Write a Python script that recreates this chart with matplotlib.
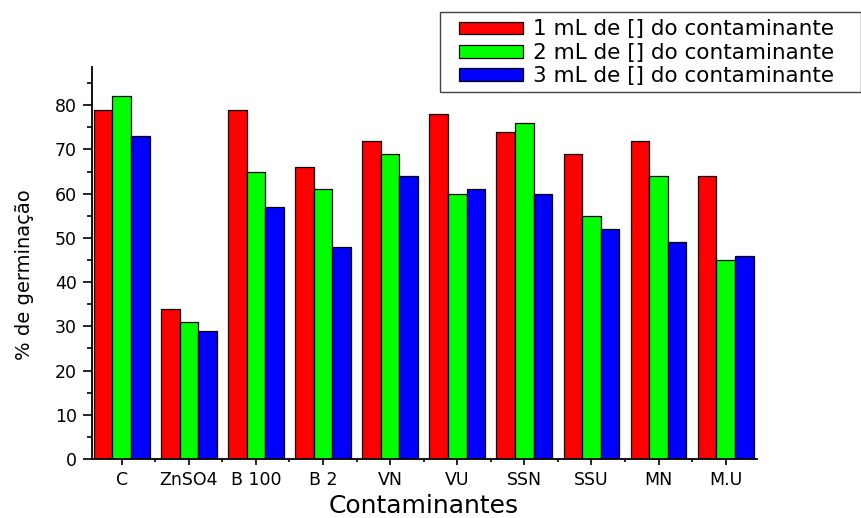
import numpy as np
import matplotlib
matplotlib.use("Agg")
import matplotlib.pyplot as plt
from matplotlib.patches import Rectangle
from matplotlib.ticker import MultipleLocator

categories = ["C", "ZnSO4", "B 100", "B 2", "VN", "VU", "SSN", "SSU", "MN", "M.U"]
serie_1ml = [79, 34, 79, 66, 72, 78, 74, 69, 72, 64]
serie_2ml = [82, 31, 65, 61, 69, 60, 76, 55, 64, 45]
serie_3ml = [73, 29, 57, 48, 64, 61, 60, 52, 49, 46]
labels = ["1 mL de [] do contaminante",
          "2 mL de [] do contaminante",
          "3 mL de [] do contaminante"]
colors = ["#ff0000", "#00ff00", "#0000ff"]

plt.rcParams['font.family'] = ['DejaVu Sans']


def main():
    fig = plt.figure(figsize=(8.62, 5.18), dpi=100)
    ax = fig.add_axes([91.7 / 862, 1 - 459 / 518, 665 / 862, 392.3 / 518])

    x = np.arange(len(categories))
    w = 0.277
    handles = []
    for i, (vals, c) in enumerate(zip([serie_1ml, serie_2ml, serie_3ml], colors)):
        b = ax.bar(x + (i - 1) * w, vals, width=w, color=c,
                   edgecolor='black', linewidth=0.9, label=labels[i])
        handles.append(b)

    ax.set_xlim(-0.447, 9.462)
    ax.set_ylim(0, 88.7)

    for s in ['top', 'right']:
        ax.spines[s].set_visible(False)
    for s in ['left', 'bottom']:
        ax.spines[s].set_linewidth(1.3)

    ax.set_xticks(x)
    ax.set_xticklabels(categories)
    ax.set_xticks(x[:-1] + 0.5, minor=True)
    ax.yaxis.set_major_locator(MultipleLocator(10))
    ax.yaxis.set_minor_locator(MultipleLocator(5))

    ax.tick_params(axis='x', which='major', direction='out', length=4.3,
                   width=1.2, labelsize=12.5, pad=4)
    ax.tick_params(axis='x', which='minor', direction='out', length=2.2, width=1.2)
    ax.tick_params(axis='y', which='major', direction='out', length=6.5,
                   width=1.2, labelsize=12.5, pad=4)
    ax.tick_params(axis='y', which='minor', direction='out', length=3.6, width=1.2)

    fig.text(424 / 862, 0.0, 'Contaminantes', ha='center', va='bottom',
             fontsize=18)
    fig.text(25 / 862, 1 - 274.5 / 518, '% de germinação', ha='center',
             va='center', rotation='vertical', fontsize=14)

    # legend box drawn separately so its padding can match the original
    fig.patches.append(Rectangle((440 / 862, 1 - 92 / 518), 421 / 862, 80 / 518,
                                 transform=fig.transFigure, fill=False,
                                 edgecolor='#444444', linewidth=1))
    fig.legend(handles=handles, loc='upper left',
               bbox_to_anchor=(459 / 862, 1 - 19.5 / 518), frameon=False,
               fontsize=15.5, borderpad=0, borderaxespad=0, labelspacing=0.16,
               handlelength=2.95, handleheight=0.52, handletextpad=0.5)

    fig.savefig("out.png", dpi=100)


if __name__ == "__main__":
    main()
